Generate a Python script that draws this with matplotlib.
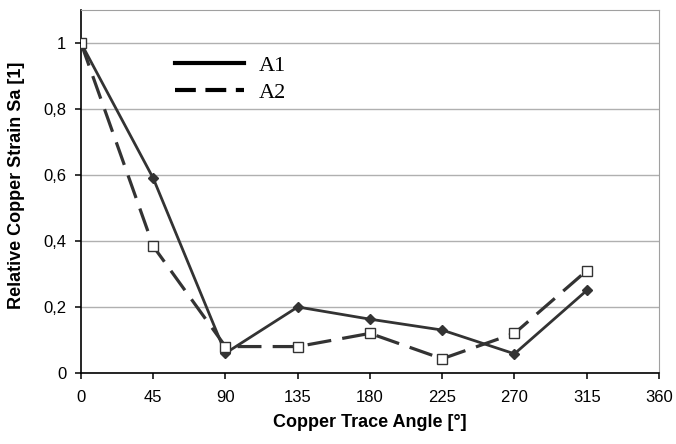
import matplotlib
matplotlib.use("Agg")
import matplotlib.pyplot as plt
import matplotlib.ticker as mticker
from matplotlib.lines import Line2D

angles = [0, 45, 90, 135, 180, 225, 270, 315]
a1 = [1.0, 0.59, 0.06, 0.20, 0.163, 0.13, 0.058, 0.25]
a2 = [1.0, 0.384, 0.08, 0.08, 0.12, 0.043, 0.12, 0.31]

x_ticks = [0, 45, 90, 135, 180, 225, 270, 315, 360]
y_ticks = [0, 0.2, 0.4, 0.6, 0.8, 1.0]

plt.rcParams["font.family"] = ["Liberation Sans", "DejaVu Sans"]
line_col = "#333333"

fig = plt.figure(figsize=(6.76, 4.44), dpi=100)
ax = fig.add_axes([0.1198, 0.16, 0.855, 0.8175])

ax.plot(angles, a1, color=line_col, lw=2.0, marker="D", ms=5,
        mfc=line_col, mec=line_col, zorder=3)
ax.plot(angles, a2, color=line_col, lw=2.3, dashes=(7.5, 3.5), marker="s", ms=7.5,
        mfc="white", mec=line_col, mew=1.0, zorder=3)

ax.set_xlim(0, 360)
ax.set_ylim(0, 1.1)
ax.set_xticks(x_ticks)
ax.set_yticks(y_ticks)
ax.yaxis.set_major_formatter(mticker.FuncFormatter(
    lambda v, _: "0" if v == 0 else ("1" if v == 1 else f"{v:.1f}".replace(".", ","))))
ax.grid(axis="y", color="#b0b0b0", lw=1.0)
ax.set_axisbelow(True)

for s in ("top", "right"):
    ax.spines[s].set_color("#a0a0a0")
for s in ("left", "bottom"):
    ax.spines[s].set_color("black")
    ax.spines[s].set_linewidth(1.2)
ax.tick_params(axis="both", direction="out", length=4.5, width=1.1,
               labelsize=12, color="black")
ax.tick_params(axis="x", pad=8)
ax.tick_params(axis="y", pad=6)

ax.set_xlabel("Copper Trace Angle [°]", fontweight="bold", fontsize=13, labelpad=6)
ax.set_ylabel("Relative Copper Strain Sa [1]", fontweight="bold", fontsize=13)
ax.yaxis.set_label_coords(-0.097, 0.5165)

handles = [Line2D([], [], color="black", lw=3),
           Line2D([], [], color="black", lw=3, dashes=(5, 2.3))]
ax.legend(handles, ["A1", "A2"], loc="upper left", bbox_to_anchor=(0.1626, 0.876),
          frameon=False, borderpad=0, borderaxespad=0,
          handlelength=3.1, handletextpad=0.65, labelspacing=0.3,
          prop={"family": "Liberation Serif", "size": 16})

fig.savefig("out.png", dpi=100)
